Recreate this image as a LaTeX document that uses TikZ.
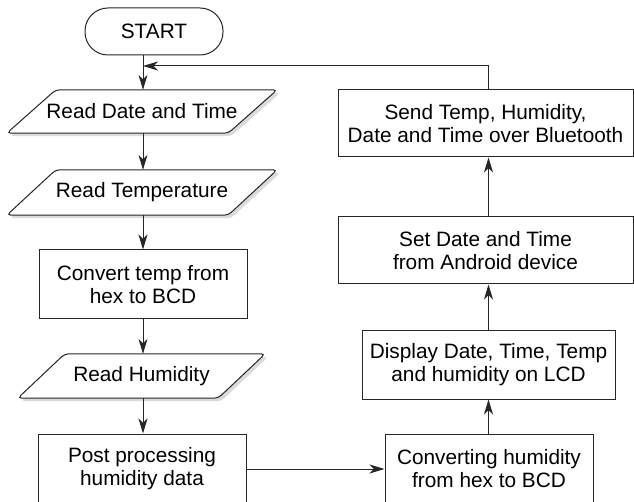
\documentclass[tikz,border=0pt]{standalone}
\usepackage{fontspec}
\setmainfont{Liberation Sans}
\usetikzlibrary{arrows.meta,backgrounds}

% slanted input/output outline (with a soft drop shadow) around a named node
\newcommand\ioshape[2]{%
  \fill[black, opacity=0.14, rounded corners=4pt]
    ([shift={(#2+3,3)}]#1.north west) -- ([shift={(3,3)}]#1.north east)
    -- ([shift={(-#2+3,3)}]#1.south east) -- ([shift={(3,3)}]#1.south west) -- cycle;
  \draw[iodraw]
    ([xshift=#2]#1.north west) -- (#1.north east)
    -- ([xshift=-#2]#1.south east) -- (#1.south west) -- cycle;
}

\begin{document}
\begin{tikzpicture}[x=1pt,y=-1pt,
  every node/.style={font=\fontsize{20.8}{23}\selectfont, align=center, inner sep=0pt, text=black},
  flowline/.style={draw=black!85, line width=1pt},
  arr/.style={flowline, -{Stealth[length=15pt,width=9pt,inset=4.5pt]}},
  procbox/.style={rectangle, draw=black!85, line width=1pt, fill=white},
  termbox/.style={rectangle, rounded corners=23pt, draw=black!85, line width=1pt, fill=white},
  iobox/.style={rectangle},
  iodraw/.style={draw=black!85, line width=1pt, fill=white, rounded corners=4pt}
]
\begin{scope}[on background layer]
  \path[use as bounding box, fill=white] (0,0) rectangle (634,502);
\end{scope}
\clip (0,0) rectangle (634,502);

% left column
\node[termbox, minimum width=138pt, minimum height=47pt] (start) at (154,31.5) {START};
\node[iobox, minimum width=270pt, minimum height=43pt] (rdt) at (142,111.5) {Read Date and Time};
\node[iobox, minimum width=270pt, minimum height=45pt] (rtemp) at (142,192.5) {Read Temperature};
\node[procbox, minimum width=208pt, minimum height=69pt] (conv) at (143,284.5) {Convert temp from\\hex to BCD};
\node[iobox, minimum width=247pt, minimum height=44pt] (rhum) at (141.5,376) {Read Humidity};
\node[procbox, minimum width=208pt, minimum height=70pt] (post) at (142,469) {Post processing\\humidity data};

% right column
\node[procbox, minimum width=208pt, minimum height=70pt] (chum) at (489,469) {Converting humidity\\from hex to BCD};
\node[procbox, minimum width=253pt, minimum height=68pt] (disp) at (488.5,365) {Display Date, Time, Temp\\and humidity on LCD};
\node[procbox, minimum width=295pt, minimum height=67pt] (setdt) at (485.5,250.5) {Set Date and Time\\from Android device};
\node[procbox, minimum width=295pt, minimum height=67pt] (send) at (485.5,123.5) {Send Temp, Humidity,\\Date and Time over Bluetooth};

% input/output outlines behind their texts
\begin{scope}[on background layer]
  \ioshape{rdt}{49}
  \ioshape{rtemp}{49}
  \ioshape{rhum}{47}
\end{scope}

% main flow line
\coordinate (loop) at (143,66);
\draw[arr] (start.south -| loop) -- (rdt.north -| loop);
\draw[arr] (rdt.south -| loop) -- (rtemp.north -| loop);
\draw[arr] (rtemp.south -| loop) -- (conv.north -| loop);
\draw[arr] (conv.south -| loop) -- (rhum.north -| loop);
\draw[arr] (rhum.south -| loop) -- (post.north -| loop);
\draw[arr] (post.east) -- (chum.west);
\draw[arr] (chum.north -| disp.north) -- (disp.south);
\draw[arr] (disp.north) -- (disp.north |- setdt.south);
\draw[arr] (disp.north |- setdt.north) -- (disp.north |- send.south);
\draw[arr] (disp.north |- send.north) -- (disp.north |- loop) -- (loop);
\end{tikzpicture}
\end{document}
